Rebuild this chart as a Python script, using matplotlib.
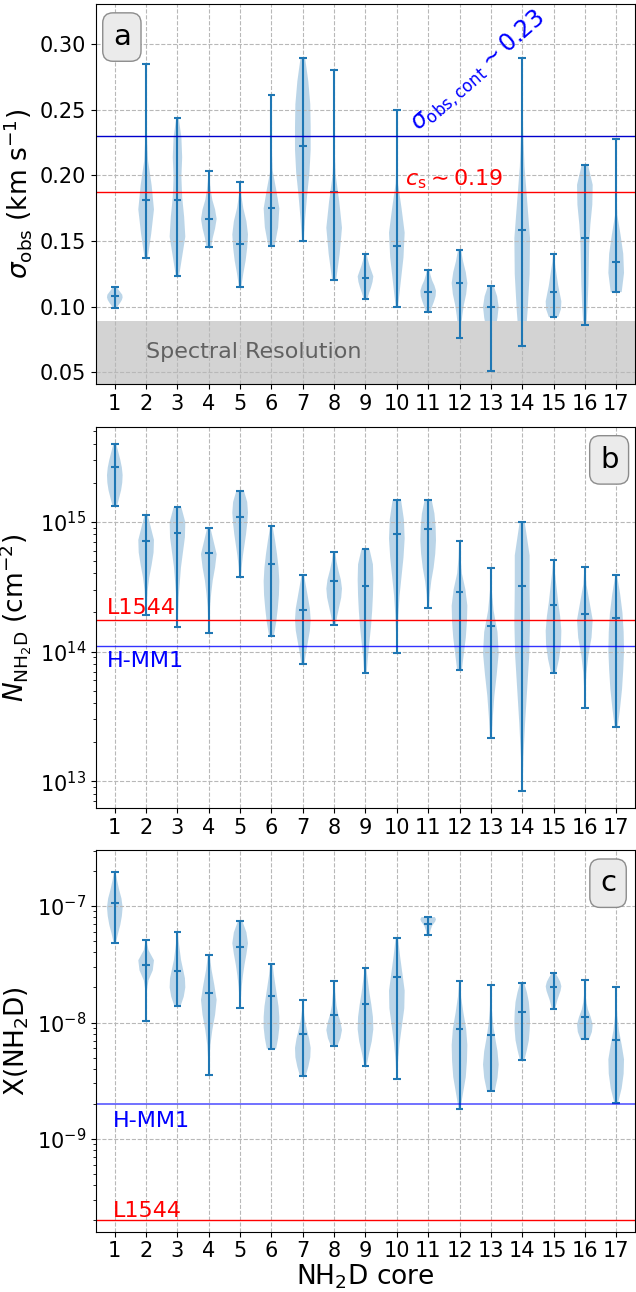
import numpy as np
import matplotlib
matplotlib.use("Agg")
import matplotlib.pyplot as plt

cores = list(range(1, 18))

# profile sample levels (fraction of the way from min to max)
levels = [0.0, 0.125, 0.25, 0.375, 0.5, 0.625, 0.75, 0.875, 1.0]

# ---- panel a: sigma_obs (km/s)
a_min = [0.099, 0.137, 0.123, 0.145, 0.115, 0.146, 0.150, 0.120, 0.106, 0.100, 0.096, 0.076, 0.051, 0.070, 0.092, 0.086, 0.111]
a_max = [0.115, 0.285, 0.244, 0.203, 0.195, 0.261, 0.289, 0.280, 0.140, 0.250, 0.128, 0.143, 0.116, 0.289, 0.140, 0.208, 0.228]
a_med = [0.108, 0.181, 0.181, 0.167, 0.148, 0.175, 0.222, 0.187, 0.122, 0.146, 0.111, 0.118, 0.100, 0.158, 0.111, 0.152, 0.134]
a_prof = [
    [0.25, 0.45, 0.7, 0.9, 1.0, 0.95, 0.7, 0.45, 0.25],
    [0.2, 0.65, 1.0, 0.7, 0.25, 0.1, 0.06, 0.04, 0.03],
    [0.2, 0.6, 1.0, 0.85, 0.6, 0.5, 0.6, 0.5, 0.15],
    [0.3, 0.5, 0.8, 1.0, 0.8, 0.45, 0.25, 0.12, 0.05],
    [0.15, 0.4, 0.7, 0.9, 1.0, 0.8, 0.4, 0.15, 0.05],
    [0.4, 0.85, 1.0, 0.6, 0.15, 0.06, 0.04, 0.03, 0.02],
    [0.1, 0.3, 0.55, 0.85, 1.0, 1.0, 0.95, 0.7, 0.3],
    [0.25, 0.7, 1.0, 0.65, 0.2, 0.06, 0.04, 0.03, 0.02],
    [0.25, 0.45, 0.7, 0.9, 1.0, 0.75, 0.5, 0.3, 0.15],
    [0.15, 0.5, 0.85, 1.0, 0.6, 0.15, 0.05, 0.03, 0.02],
    [0.3, 0.5, 0.75, 0.95, 1.0, 0.8, 0.5, 0.3, 0.15],
    [0.1, 0.2, 0.35, 0.55, 0.85, 1.0, 0.8, 0.45, 0.2],
    [0.1, 0.15, 0.25, 0.4, 0.6, 0.85, 1.0, 0.8, 0.35],
    [0.35, 0.7, 0.95, 1.0, 0.65, 0.3, 0.12, 0.05, 0.03],
    [0.6, 0.95, 1.0, 0.8, 0.6, 0.45, 0.3, 0.15, 0.05],
    [0.2, 0.35, 0.45, 0.5, 0.55, 0.7, 0.95, 1.0, 0.4],
    [0.7, 1.0, 0.9, 0.55, 0.15, 0.05, 0.03, 0.02, 0.02],
]
sigma_cont = 0.23
c_s = 0.187
spec_res = 0.089

# ---- panel b: N(NH2D) (cm^-2)
b_min = [1.33e15, 1.91e14, 1.55e14, 1.38e14, 3.73e14, 1.32e14, 8.0e13, 1.61e14, 6.8e13, 9.8e13, 2.17e14, 7.2e13, 2.14e13, 8.5e12, 6.8e13, 3.65e13, 2.64e13]
b_max = [3.94e15, 1.13e15, 1.29e15, 9.0e14, 1.72e15, 9.2e14, 3.9e14, 5.8e14, 6.2e14, 1.46e15, 1.47e15, 7.1e14, 4.4e14, 1.0e15, 5.1e14, 4.5e14, 3.9e14]
b_med = [2.64e15, 7.1e14, 8.2e14, 5.7e14, 1.09e15, 4.7e14, 2.08e14, 3.5e14, 3.2e14, 8.0e14, 8.8e14, 2.9e14, 1.56e14, 3.2e14, 2.29e14, 1.93e14, 1.82e14]
b_prof = [
    [0.3, 0.55, 0.8, 0.95, 1.0, 0.9, 0.7, 0.45, 0.2],
    [0.05, 0.1, 0.2, 0.4, 0.7, 0.95, 1.0, 0.6, 0.2],
    [0.05, 0.08, 0.15, 0.3, 0.45, 0.7, 0.95, 1.0, 0.5],
    [0.05, 0.08, 0.15, 0.3, 0.5, 0.8, 1.0, 0.6, 0.2],
    [0.1, 0.2, 0.35, 0.55, 0.75, 0.9, 1.0, 0.9, 0.5],
    [0.3, 0.6, 0.8, 0.95, 1.0, 0.9, 0.7, 0.45, 0.15],
    [0.2, 0.4, 0.65, 0.9, 1.0, 0.9, 0.65, 0.4, 0.15],
    [0.2, 0.4, 0.65, 0.9, 1.0, 0.85, 0.55, 0.3, 0.15],
    [0.15, 0.3, 0.5, 0.7, 0.85, 0.95, 1.0, 0.95, 0.5],
    [0.05, 0.1, 0.2, 0.35, 0.6, 0.85, 1.0, 0.9, 0.55],
    [0.1, 0.2, 0.4, 0.7, 0.9, 1.0, 0.95, 0.8, 0.45],
    [0.3, 0.55, 0.8, 0.95, 1.0, 0.75, 0.3, 0.12, 0.05],
    [0.1, 0.25, 0.45, 0.75, 1.0, 0.85, 0.35, 0.1, 0.03],
    [0.05, 0.15, 0.35, 0.6, 0.85, 0.95, 0.9, 0.9, 0.3],
    [0.3, 0.7, 0.95, 1.0, 0.85, 0.6, 0.4, 0.2, 0.05],
    [0.03, 0.08, 0.2, 0.45, 0.85, 1.0, 0.6, 0.2, 0.05],
    [0.2, 0.5, 0.75, 0.9, 1.0, 0.95, 0.8, 0.5, 0.1],
]
N_L1544 = 1.74e14
N_HMM1 = 1.1e14

# ---- panel c: X(NH2D)
c_min = [4.84e-8, 1.04e-8, 1.39e-8, 3.54e-9, 1.32e-8, 5.96e-9, 3.45e-9, 6.25e-9, 4.26e-9, 3.27e-9, 5.68e-8, 1.8e-9, 2.58e-9, 4.81e-9, 1.31e-8, 7.18e-9, 2.05e-9]
c_max = [1.97e-7, 5.1e-8, 5.98e-8, 3.82e-8, 7.38e-8, 3.18e-8, 1.55e-8, 2.27e-8, 2.92e-8, 5.35e-8, 8.05e-8, 2.29e-8, 2.11e-8, 2.2e-8, 2.68e-8, 2.32e-8, 2.02e-8]
c_med = [1.06e-7, 3.13e-8, 2.77e-8, 1.78e-8, 4.45e-8, 1.70e-8, 7.9e-9, 1.16e-8, 1.44e-8, 2.47e-8, 7.05e-8, 8.85e-9, 7.8e-9, 1.23e-8, 2.02e-8, 1.11e-8, 7.1e-9]
c_prof = [
    [0.15, 0.4, 0.7, 0.9, 1.0, 0.85, 0.55, 0.3, 0.1],
    [0.02, 0.03, 0.05, 0.1, 0.3, 0.85, 1.0, 0.3, 0.05],
    [0.4, 0.8, 1.0, 0.95, 0.7, 0.45, 0.3, 0.15, 0.05],
    [0.03, 0.08, 0.2, 0.45, 0.8, 1.0, 0.7, 0.35, 0.1],
    [0.03, 0.1, 0.2, 0.35, 0.55, 0.8, 1.0, 0.8, 0.3],
    [0.6, 0.85, 1.0, 1.0, 0.9, 0.7, 0.5, 0.3, 0.15],
    [0.35, 0.7, 0.95, 1.0, 0.8, 0.5, 0.25, 0.1, 0.04],
    [0.4, 0.8, 1.0, 0.8, 0.5, 0.3, 0.2, 0.1, 0.05],
    [0.15, 0.45, 0.8, 1.0, 0.95, 0.75, 0.5, 0.3, 0.1],
    [0.05, 0.15, 0.35, 0.65, 0.95, 1.0, 0.7, 0.4, 0.15],
    [0.2, 0.25, 0.3, 0.4, 0.5, 0.7, 0.9, 1.0, 0.85],
    [0.1, 0.45, 0.8, 0.95, 1.0, 0.85, 0.5, 0.2, 0.05],
    [0.5, 0.85, 1.0, 0.85, 0.55, 0.3, 0.15, 0.06, 0.02],
    [0.3, 0.6, 0.85, 0.95, 1.0, 0.95, 0.85, 0.6, 0.25],
    [0.2, 0.35, 0.5, 0.7, 0.9, 1.0, 0.85, 0.55, 0.2],
    [0.55, 0.9, 1.0, 0.75, 0.4, 0.2, 0.1, 0.05, 0.02],
    [0.25, 0.7, 0.95, 1.0, 0.7, 0.35, 0.15, 0.05, 0.02],
]
X_HMM1 = 2.0e-9
X_L1544 = 2.0e-10


def make_stats(vmin, vmax, vmed, prof, log=False):
    fr = np.array(levels)
    out = []
    for lo, hi, md, w in zip(vmin, vmax, vmed, prof):
        if log:
            coords = 10 ** (np.log10(lo) + fr * (np.log10(hi) - np.log10(lo)))
        else:
            coords = lo + fr * (hi - lo)
        out.append(dict(coords=coords, vals=np.array(w, float), mean=md,
                        median=md, min=lo, max=hi))
    return out


TICK_FS = 15
TEXT_FS = 16
LAB_FS = 19

fig = plt.figure(figsize=(6.36, 12.92), dpi=100)
H = 1292.0
W = 636.0
left = 96 / W
width = 539 / W
rects = [
    [left, 1 - 384 / H, width, 380 / H],
    [left, 1 - 808.3 / H, width, 381.6 / H],
    [left, 1 - 1231.7 / H, width, 381.7 / H],
]
axes = [fig.add_axes(r) for r in rects]


def style(ax, letter, lx):
    ax.set_xlim(0.4, 17.6)
    ax.set_xticks(cores)
    ax.set_xticklabels([str(c) for c in cores])
    ax.tick_params(labelsize=TICK_FS)
    ax.grid(True, which="major", ls="--", color="0.72", lw=0.8)
    ax.text(lx, 0.913, letter, transform=ax.transAxes, fontsize=21,
            ha="center", va="center",
            bbox=dict(boxstyle="round,pad=0.35", fc="#ebebeb", ec="0.55"))


# panel a
ax = axes[0]
ax.violin(make_stats(a_min, a_max, a_med, a_prof), positions=cores, widths=0.5,
          showmedians=True, showextrema=True)
ax.axhspan(0.0, spec_res, color="lightgrey", lw=0)
ax.axhline(sigma_cont, color="#0000cc", lw=1.0)
ax.axhline(c_s, color="r", lw=1.0)
ax.set_ylim(0.041, 0.3305)
ax.set_yticks([0.05, 0.10, 0.15, 0.20, 0.25, 0.30])
ax.set_yticklabels(["0.05", "0.10", "0.15", "0.20", "0.25", "0.30"])
ax.text(2.0, 0.0653, "Spectral Resolution", fontsize=TEXT_FS, color="0.38",
        ha="left", va="center")
ax.text(10.25, 0.192, r"$c_{\rm s}\sim0.19$", color="r", fontsize=TEXT_FS,
        ha="left", va="baseline")
ax.text(10.7, 0.233, r"$\sigma_{\rm obs,cont}\sim0.23$", color="b",
        fontsize=17, rotation=41, rotation_mode="anchor",
        ha="left", va="baseline")
ax.set_ylabel(r"$\sigma_{\rm obs}$ (km s$^{-1}$)", fontsize=LAB_FS)
style(ax, "a", 0.048)

# panel b
ax = axes[1]
ax.set_yscale("log")
ax.violin(make_stats(b_min, b_max, b_med, b_prof, log=True), positions=cores,
          widths=0.5, showmedians=True, showextrema=True)
ax.axhline(N_L1544, color="r", lw=1.0)
ax.axhline(N_HMM1, color="b", lw=1.0, alpha=0.8)
ax.set_ylim(6.2e12, 5.4e15)
ax.text(0.75, 1.95e14, "L1544", color="r", fontsize=TEXT_FS, va="baseline")
ax.text(0.75, 7.6e13, "H-MM1", color="b", fontsize=TEXT_FS, va="baseline")
ax.set_ylabel(r"$N_{\rm NH_2D}$ (cm$^{-2}$)", fontsize=LAB_FS)
style(ax, "b", 0.952)

# panel c
ax = axes[2]
ax.set_yscale("log")
ax.violin(make_stats(c_min, c_max, c_med, c_prof, log=True), positions=cores,
          widths=0.5, showmedians=True, showextrema=True)
ax.axhline(X_HMM1, color="b", lw=1.3, alpha=0.6)
ax.axhline(X_L1544, color="r", lw=1.0)
ax.set_ylim(1.6e-10, 3.03e-7)
ax.text(0.94, 1.27e-9, "H-MM1", color="b", fontsize=TEXT_FS, va="baseline")
ax.text(0.94, 2.15e-10, "L1544", color="r", fontsize=TEXT_FS, va="baseline")
ax.set_ylabel(r"X(NH$_2$D)", fontsize=LAB_FS)
ax.set_xlabel(r"NH$_2$D core", fontsize=LAB_FS, labelpad=1)
style(ax, "c", 0.950)

fig.savefig("out.png", dpi=100)
